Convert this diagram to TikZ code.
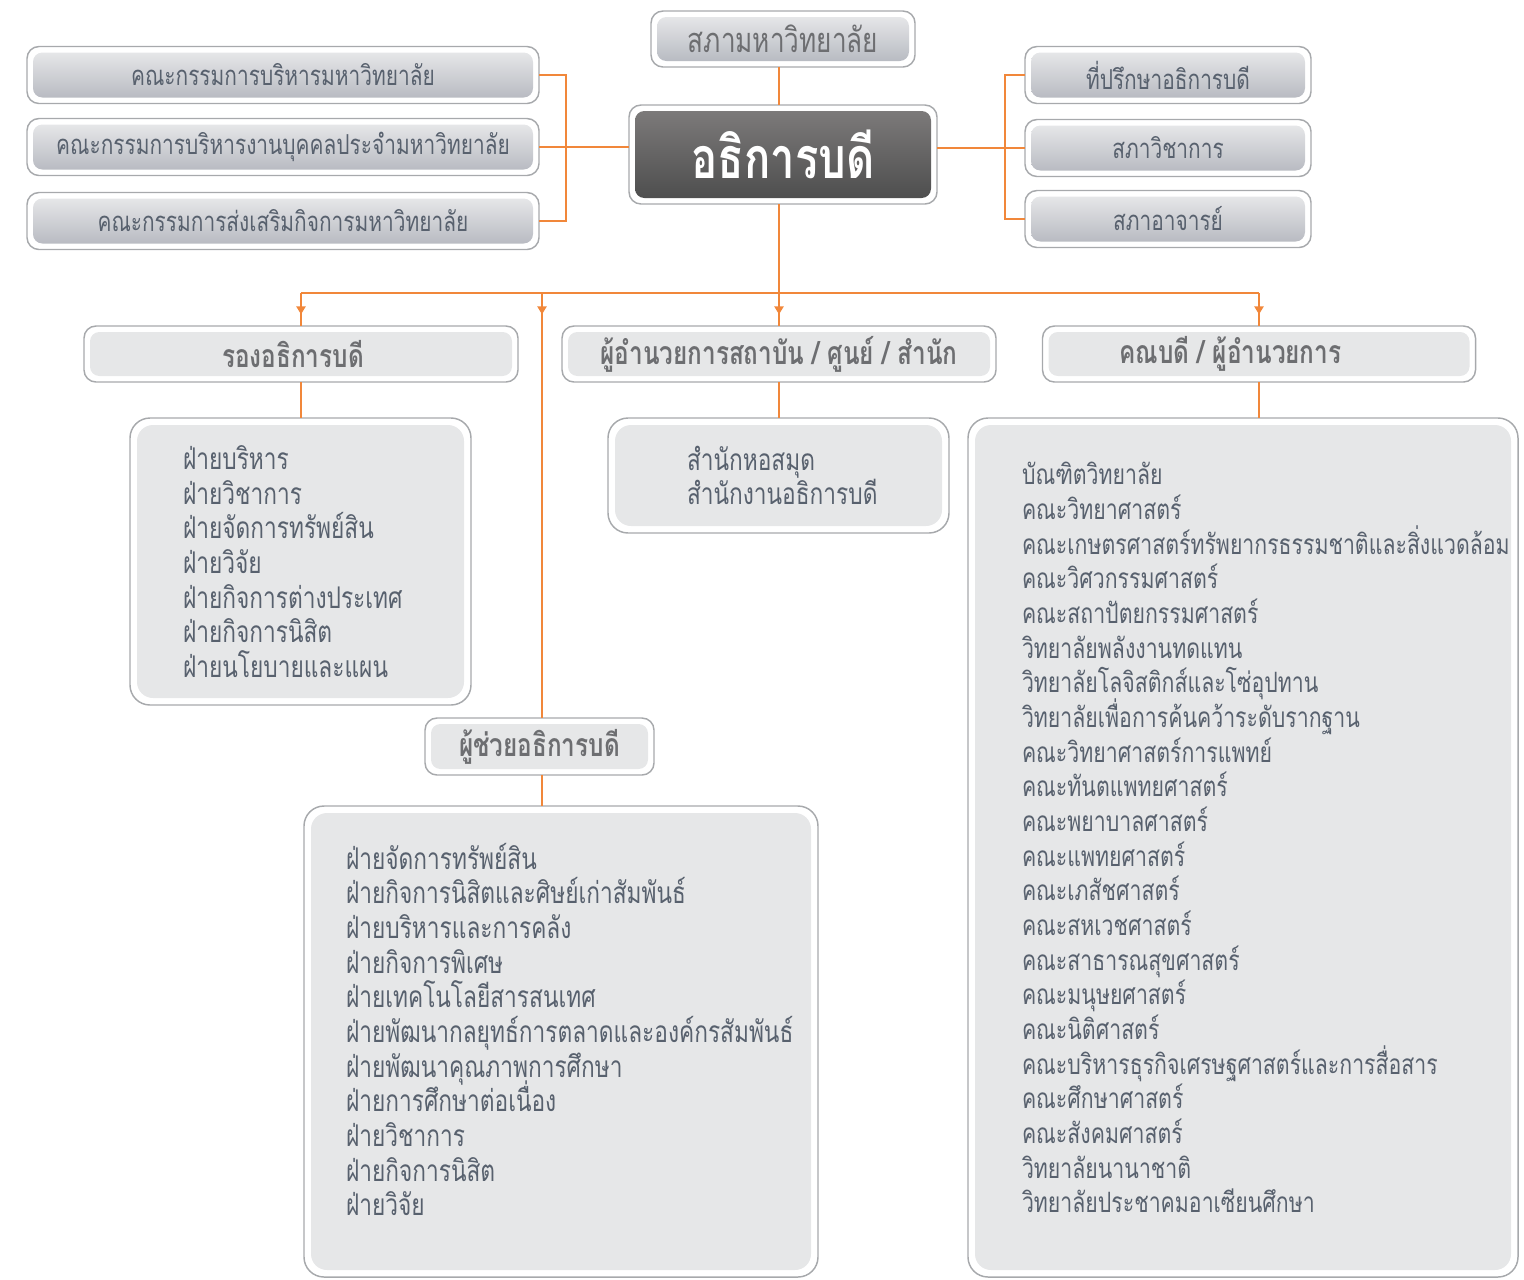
\documentclass[tikz,border=0pt]{standalone}
\usepackage{fontspec}
\newfontfamily\thaifont[Script=Thai,FakeStretch=0.76]{Loma}
\usetikzlibrary{calc,arrows.meta,decorations.markings}
\definecolor{linkorange}{RGB}{241,135,58}
\definecolor{framegray}{RGB}{167,169,172}
\definecolor{flatgray}{RGB}{230,231,232}
\definecolor{glosstop}{RGB}{229,230,232}
\definecolor{glossbottom}{RGB}{184,187,194}
\definecolor{darktop}{RGB}{124,122,122}
\definecolor{darkbottom}{RGB}{78,78,78}
\definecolor{listtext}{RGB}{88,97,110}
\definecolor{headtext}{RGB}{109,110,113}
\tikzset{every picture/.style={line width=0.75pt}}
\tikzset{
  boxsize/.style 2 args={minimum width=#1*0.75pt-9pt,minimum height=#2*0.75pt-9pt,outer sep=4.5pt},
  listsize/.style 2 args={minimum width=#1*0.75pt-10.5pt,minimum height=#2*0.75pt-10.5pt,outer sep=5.25pt},
  innerbox/.style={rounded corners=7pt,inner sep=0pt},
  glossbox/.style={innerbox,top color=glosstop,bottom color=glossbottom,text=listtext,
    font={\thaifont\fontsize{20.6}{22}\selectfont}},
  rectorbox/.style={innerbox,top color=darktop,bottom color=darkbottom,text=white,
    font={\thaifont\bfseries\fontsize{43}{44}\selectfont}},
  headbox/.style={innerbox,fill=flatgray,text=headtext,font={\thaifont\bfseries\fontsize{24}{26}\selectfont}},
  listbox/.style={innerbox,rounded corners=12pt,fill=flatgray,text=listtext,align=left,
    font={\thaifont\fontsize{22.4}{26}\selectfont\lineskiplimit=-20pt}},
  frame/.style={draw=framegray,line width=1.1pt,rounded corners=9pt},
  link/.style={draw=linkorange,line width=1.1pt},
  droparrow/.style={postaction={decorate},decoration={markings,
    mark=at position 16pt with {\arrow{Triangle[width=7pt,length=6pt]}}}},
}

\begin{document}
\begin{tikzpicture}[x=0.75pt,y=0.75pt,yscale=-1,xscale=1]
\useasboundingbox (0,0) rectangle (1524,1279);
% top row
\node[glossbox,boxsize={264}{56},font={\thaifont\fontsize{25.8}{27}\selectfont},text=headtext] (council) at (783,39) {สภามหาวิทยาลัย};
\node[rectorbox,boxsize={308}{99}] (rector) at (783,154.5) {อธิการบดี};
\node[glossbox,boxsize={512}{57}] (board1) at (283,75) {คณะกรรมการบริหารมหาวิทยาลัย};
\node[glossbox,boxsize={512}{57}] (board2) at (283,147) {คณะกรรมการบริหารงานบุคคลประจำมหาวิทยาลัย};
\node[glossbox,boxsize={512}{57}] (board3) at (283,221) {คณะกรรมการส่งเสริมกิจการมหาวิทยาลัย};
\node[glossbox,boxsize={286}{57}] (adv1) at (1168,75) {ที่ปรึกษาอธิการบดี};
\node[glossbox,boxsize={286}{57}] (adv2) at (1168,148) {สภาวิชาการ};
\node[glossbox,boxsize={286}{57}] (adv3) at (1168,219) {สภาอาจารย์};
% second row
\node[headbox,boxsize={434}{56}] (vice) at (301,354) {รองอธิการบดี\hspace*{12pt}};
\node[headbox,boxsize={434}{56}] (director) at (779,354) {ผู้อำนวยการสถาบัน / ศูนย์ / สำนัก};
\node[headbox,boxsize={433}{56}] (dean) at (1259,354) {คณบดี / ผู้อำนวยการ\hspace*{43pt}};
\node[headbox,boxsize={229}{57}] (asst) at (539.5,746.5) {ผู้ช่วยอธิการบดี};
% lists
\node[listbox,listsize={341}{287},text width={(341-2*53)*0.75pt}] (vicelist) at (300.5,561.5)
  {ฝ่ายบริหาร\\ฝ่ายวิชาการ\\ฝ่ายจัดการทรัพย์สิน\\ฝ่ายวิจัย\\ฝ่ายกิจการต่างประเทศ\\ฝ่ายกิจการนิสิต\\ฝ่ายนโยบายและแผน};
\node[listbox,listsize={341}{115},text width={(341-2*79)*0.75pt}] (officelist) at (778.5,475.5)
  {สำนักหอสมุด\\สำนักงานอธิการบดี};
\node[listbox,listsize={514}{471},text width={(514-2*42)*0.75pt}] (asstlist) at (561,1041.5)
  {ฝ่ายจัดการทรัพย์สิน\\ฝ่ายกิจการนิสิตและศิษย์เก่าสัมพันธ์\\ฝ่ายบริหารและการคลัง\\ฝ่ายกิจการพิเศษ\\ฝ่ายเทคโนโลยีสารสนเทศ\\ฝ่ายพัฒนากลยุทธ์การตลาดและองค์กรสัมพันธ์\\ฝ่ายพัฒนาคุณภาพการศึกษา\\ฝ่ายการศึกษาต่อเนื่อง\\ฝ่ายวิชาการ\\ฝ่ายกิจการนิสิต\\ฝ่ายวิจัย\\[-8pt]\mbox{}};
\node[listbox,listsize={550}{859},text width={(550-2*54)*0.75pt},font={\thaifont\fontsize{21}{26}\selectfont\lineskiplimit=-20pt}] (facultylist) at (1243,847.5)
  {บัณฑิตวิทยาลัย\\คณะวิทยาศาสตร์\\คณะเกษตรศาสตร์ทรัพยากรธรรมชาติและสิ่งแวดล้อม\\คณะวิศวกรรมศาสตร์\\คณะสถาปัตยกรรมศาสตร์\\วิทยาลัยพลังงานทดแทน\\วิทยาลัยโลจิสติกส์และโซ่อุปทาน\\วิทยาลัยเพื่อการค้นคว้าระดับรากฐาน\\คณะวิทยาศาสตร์การแพทย์\\คณะทันตแพทยศาสตร์\\คณะพยาบาลศาสตร์\\คณะแพทยศาสตร์\\คณะเภสัชศาสตร์\\คณะสหเวชศาสตร์\\คณะสาธารณสุขศาสตร์\\คณะมนุษยศาสตร์\\คณะนิติศาสตร์\\คณะบริหารธุรกิจเศรษฐศาสตร์และการสื่อสาร\\คณะศึกษาศาสตร์\\คณะสังคมศาสตร์\\วิทยาลัยนานาชาติ\\วิทยาลัยประชาคมอาเซียนศึกษา\\[-11pt]\mbox{}};
% outer frames
\foreach \n in {council,rector,board1,board2,board3,adv1,adv2,adv3,vice,director,dean,asst}
  \draw[frame] (\n.north west) rectangle (\n.south east);
\foreach \n in {vicelist,officelist,asstlist,facultylist}
  \draw[frame,rounded corners=15pt] (\n.north west) rectangle (\n.south east);
% connectors
\coordinate (spine) at (779,0);
\coordinate (bus) at (0,293);
\coordinate (ljoin) at (566,0);
\coordinate (rjoin) at (1005,0);
\coordinate (asstdrop) at (542,0);
\draw[link] (council.south -| spine) -- (rector.north -| spine);
\draw[link] (board1.east) -| (ljoin |- board3.east) -- (board3.east);
\draw[link] (board2.east) -- (board2.east -| rector.west);
\draw[link] (adv1.west) -| (rjoin |- adv3.west) -- (adv3.west);
\draw[link] (rector.east |- adv2.west) -- (adv2.west);
\draw[link] (rector.south -| spine) -- (spine |- bus);
\draw[link] (bus -| vice.north) -- (bus -| dean.north);
\draw[link,droparrow] (bus -| vice.north) -- (vice.north);
\draw[link,droparrow] (bus -| asstdrop) -- (asstdrop |- asst.north);
\draw[link,droparrow] (bus -| spine) -- (spine |- director.north);
\draw[link,droparrow] (bus -| dean.north) -- (dean.north);
\draw[link] (vice.south) -- (vice.south |- vicelist.north);
\draw[link] (director.south -| spine) -- (spine |- officelist.north);
\draw[link] (dean.south) -- (dean.south |- facultylist.north);
\draw[link] (asst.south -| asstdrop) -- (asstdrop |- asstlist.north);
\end{tikzpicture}
\end{document}
